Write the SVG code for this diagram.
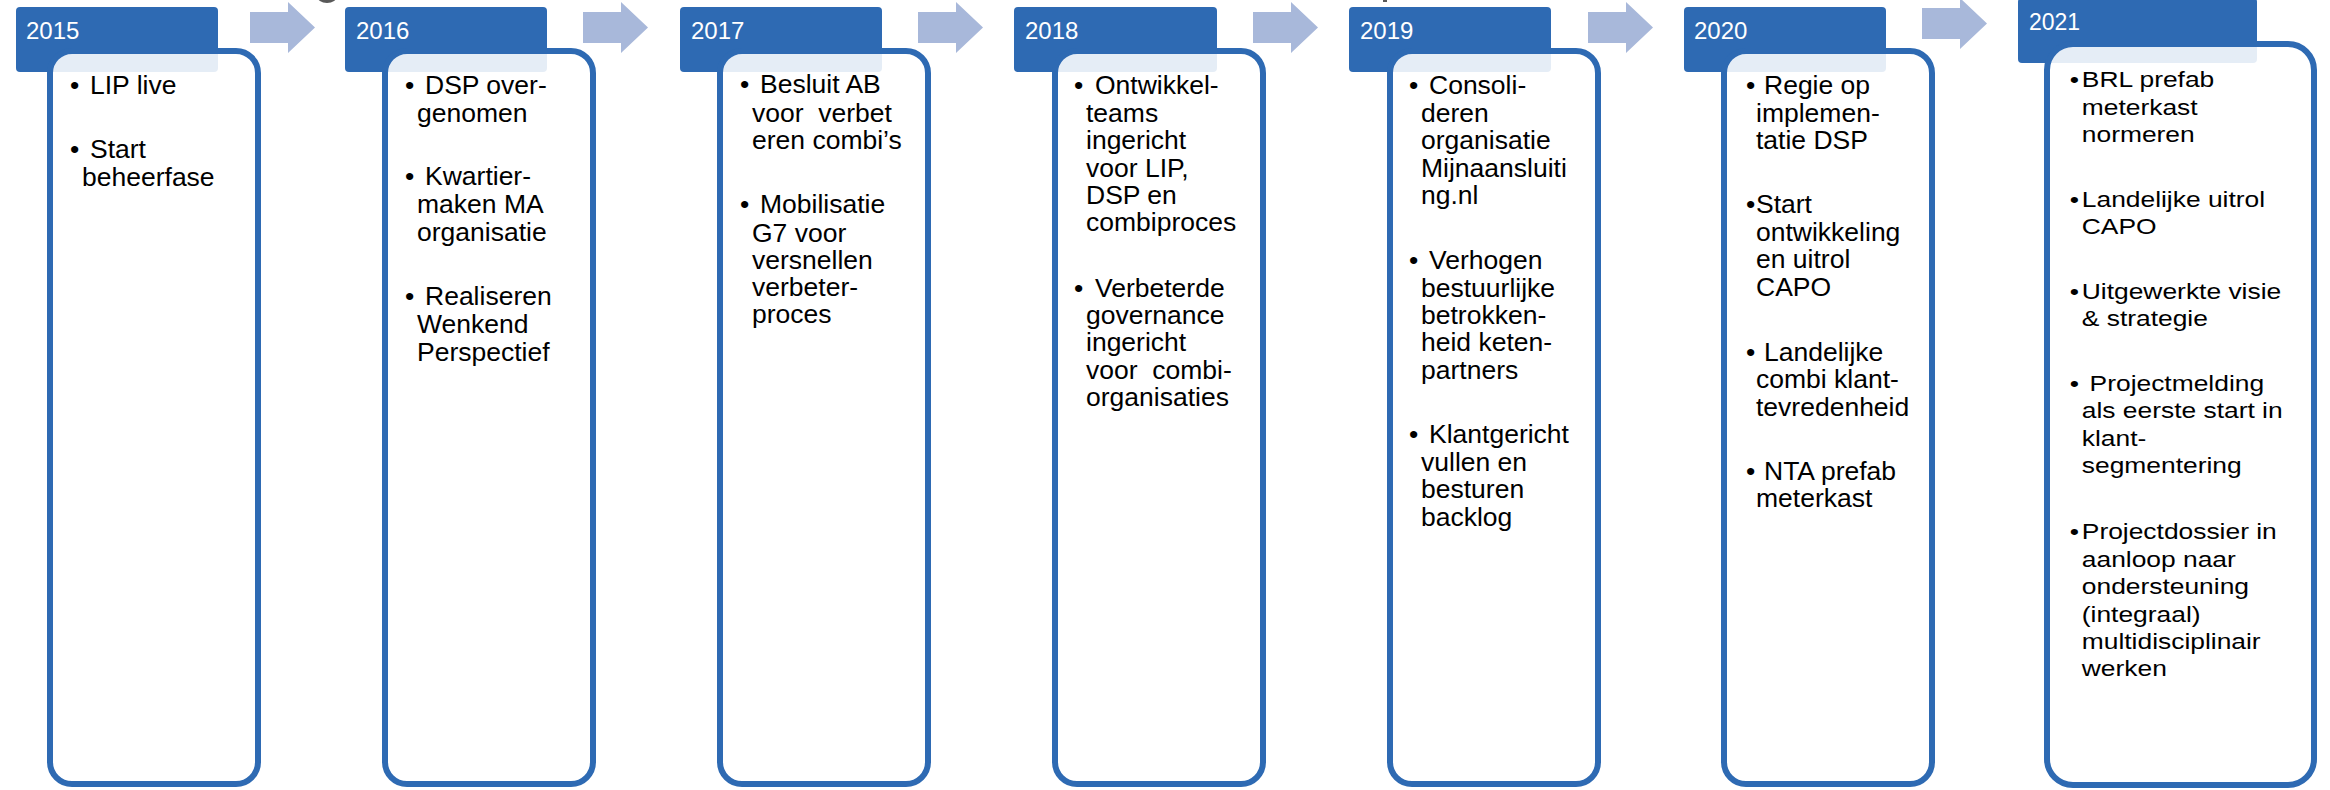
<svg xmlns="http://www.w3.org/2000/svg" width="2330" height="790" viewBox="0 0 2330 790">
<style>
.hdr{fill:#2E6AB3}
.box{fill:#FFFFFF;fill-opacity:0.88;stroke:#2E6AB3;stroke-width:6}
.yr{font-family:"Liberation Sans",Arial,sans-serif;font-size:24px;fill:#FFFFFF}
.yr21{font-family:"Liberation Sans",Arial,sans-serif;font-size:23px;fill:#FFFFFF}
.t{font-family:"Liberation Sans",Arial,sans-serif;font-size:26.5px;fill:#000000}
.t21{font-family:"Liberation Sans",Arial,sans-serif;font-size:22px;fill:#000000}
.arr{fill:#A8B8DA}
.blob{fill:#595959}
</style>
<defs>
<path id="blockArrow" d="M0,12 H38 V2 L65,27.5 L38,53 V43 H0 Z"/>
</defs>
<rect width="2330" height="790" fill="#FFFFFF"/>

<g id="connectors">
<use href="#blockArrow" class="arr" x="250" y="0"/>
<use href="#blockArrow" class="arr" x="583" y="0"/>
<use href="#blockArrow" class="arr" x="918" y="0"/>
<use href="#blockArrow" class="arr" x="1253" y="0"/>
<use href="#blockArrow" class="arr" x="1588" y="0"/>
<use href="#blockArrow" class="arr" x="1922" y="-4"/>
</g>

<g id="fragments">
<ellipse class="blob" cx="327" cy="-4" rx="10" ry="7"/>
<rect class="blob" x="1383" y="0" width="4" height="2"/>
</g>

<g id="node-2015">
<rect class="hdr" x="16" y="7" width="202" height="65" rx="4"/>
<rect class="box" x="50" y="51" width="208" height="733" rx="22"/>
<text class="yr" x="26" y="38.5">2015</text>
<text class="t" x="70" y="94.3">•</text>
<text class="t" x="90" y="94.3">LIP live</text>
<text class="t" x="70" y="158.3">•</text>
<text class="t" x="90" y="158.3">Start</text>
<text class="t" x="82" y="185.7">beheerfase</text>
</g>

<g id="node-2016">
<rect class="hdr" x="345" y="7" width="202" height="65" rx="4"/>
<rect class="box" x="385" y="51" width="208" height="733" rx="22"/>
<text class="yr" x="356" y="38.5">2016</text>
<text class="t" x="405" y="94.3">•</text>
<text class="t" x="425" y="94.3">DSP over-</text>
<text class="t" x="417" y="122">genomen</text>
<text class="t" x="405" y="185">•</text>
<text class="t" x="425" y="185">Kwartier-</text>
<text class="t" x="417" y="213">maken MA</text>
<text class="t" x="417" y="240.5">organisatie</text>
<text class="t" x="405" y="305">•</text>
<text class="t" x="425" y="305">Realiseren</text>
<text class="t" x="417" y="333">Wenkend</text>
<text class="t" x="417" y="360.5">Perspectief</text>
</g>

<g id="node-2017">
<rect class="hdr" x="680" y="7" width="202" height="65" rx="4"/>
<rect class="box" x="720" y="51" width="208" height="733" rx="22"/>
<text class="yr" x="691" y="38.5">2017</text>
<text class="t" x="740" y="93.3">•</text>
<text class="t" x="760" y="93.3">Besluit AB</text>
<text class="t" x="752" y="121.5" xml:space="preserve">voor  verbet</text>
<text class="t" x="752" y="148.5">eren combi’s</text>
<text class="t" x="740" y="213.3">•</text>
<text class="t" x="760" y="213.3">Mobilisatie</text>
<text class="t" x="752" y="241.5">G7 voor</text>
<text class="t" x="752" y="268.5">versnellen</text>
<text class="t" x="752" y="296">verbeter-</text>
<text class="t" x="752" y="323.3">proces</text>
</g>

<g id="node-2018">
<rect class="hdr" x="1014" y="7" width="203" height="65" rx="4"/>
<rect class="box" x="1055" y="51" width="208" height="733" rx="22"/>
<text class="yr" x="1025" y="38.5">2018</text>
<text class="t" x="1074" y="94.3">•</text>
<text class="t" x="1095" y="94.3">Ontwikkel-</text>
<text class="t" x="1086" y="121.7">teams</text>
<text class="t" x="1086" y="148.5">ingericht</text>
<text class="t" x="1086" y="176.5">voor LIP,</text>
<text class="t" x="1086" y="204">DSP en</text>
<text class="t" x="1086" y="231">combiproces</text>
<text class="t" x="1074" y="296.7">•</text>
<text class="t" x="1095" y="296.7">Verbeterde</text>
<text class="t" x="1086" y="323.5">governance</text>
<text class="t" x="1086" y="351">ingericht</text>
<text class="t" x="1086" y="378.5" xml:space="preserve">voor  combi-</text>
<text class="t" x="1086" y="406">organisaties</text>
</g>

<g id="node-2019">
<rect class="hdr" x="1349" y="7" width="202" height="65" rx="4"/>
<rect class="box" x="1390" y="51" width="208" height="733" rx="22"/>
<text class="yr" x="1360" y="38.5">2019</text>
<text class="t" x="1409" y="94.3">•</text>
<text class="t" x="1429" y="94.3">Consoli-</text>
<text class="t" x="1421" y="121.7">deren</text>
<text class="t" x="1421" y="148.5">organisatie</text>
<text class="t" x="1421" y="176.5">Mijnaansluiti</text>
<text class="t" x="1421" y="204">ng.nl</text>
<text class="t" x="1409" y="268.5">•</text>
<text class="t" x="1429" y="268.5">Verhogen</text>
<text class="t" x="1421" y="296.5">bestuurlijke</text>
<text class="t" x="1421" y="323.5">betrokken-</text>
<text class="t" x="1421" y="351">heid keten-</text>
<text class="t" x="1421" y="378.5">partners</text>
<text class="t" x="1409" y="443.3">•</text>
<text class="t" x="1429" y="443.3">Klantgericht</text>
<text class="t" x="1421" y="470.7">vullen en</text>
<text class="t" x="1421" y="498.3">besturen</text>
<text class="t" x="1421" y="525.7">backlog</text>
</g>

<g id="node-2020">
<rect class="hdr" x="1684" y="7" width="202" height="65" rx="4"/>
<rect class="box" x="1724" y="51" width="208" height="733" rx="22"/>
<text class="yr" x="1694" y="38.5">2020</text>
<text class="t" x="1746" y="94.3">•</text>
<text class="t" x="1764" y="94.3">Regie op</text>
<text class="t" x="1756" y="121.7">implemen-</text>
<text class="t" x="1756" y="148.5">tatie DSP</text>
<text class="t" x="1746" y="213.3">•</text>
<text class="t" x="1756" y="213.3">Start</text>
<text class="t" x="1756" y="240.7">ontwikkeling</text>
<text class="t" x="1756" y="268.3">en uitrol</text>
<text class="t" x="1756" y="296">CAPO</text>
<text class="t" x="1746" y="361">•</text>
<text class="t" x="1764" y="361">Landelijke</text>
<text class="t" x="1756" y="388.3">combi klant-</text>
<text class="t" x="1756" y="416">tevredenheid</text>
<text class="t" x="1746" y="480">•</text>
<text class="t" x="1764" y="480">NTA prefab</text>
<text class="t" x="1756" y="506.7">meterkast</text>
</g>

<g id="node-2021">
<rect class="hdr" x="2018" y="-2" width="239" height="65" rx="4"/>
<rect class="box" x="2047" y="44" width="267" height="741" rx="26"/>
<text class="yr21" x="2029" y="30">2021</text>
<g transform="translate(2044 0) scale(1.2 1)">
<text class="t21" x="21.5" y="87.3">•</text>
<text class="t21" x="31.5" y="87.3">BRL prefab</text>
<text class="t21" x="31.5" y="115">meterkast</text>
<text class="t21" x="31.5" y="141.7">normeren</text>
<text class="t21" x="21.5" y="207.3">•</text>
<text class="t21" x="31.5" y="207.3">Landelijke uitrol</text>
<text class="t21" x="31.5" y="234">CAPO</text>
<text class="t21" x="21.5" y="299.3">•</text>
<text class="t21" x="31.5" y="299.3">Uitgewerkte visie</text>
<text class="t21" x="31.5" y="326">&amp; strategie</text>
<text class="t21" x="21.5" y="391">•</text>
<text class="t21" x="38" y="391">Projectmelding</text>
<text class="t21" x="31.5" y="418.5">als eerste start in</text>
<text class="t21" x="31.5" y="446">klant-</text>
<text class="t21" x="31.5" y="473.5">segmentering</text>
<text class="t21" x="21.5" y="539">•</text>
<text class="t21" x="31.5" y="539">Projectdossier in</text>
<text class="t21" x="31.5" y="566.7">aanloop naar</text>
<text class="t21" x="31.5" y="594.5">ondersteuning</text>
<text class="t21" x="31.5" y="622">(integraal)</text>
<text class="t21" x="31.5" y="649">multidisciplinair</text>
<text class="t21" x="31.5" y="676">werken</text>
</g>
</g>
</svg>
